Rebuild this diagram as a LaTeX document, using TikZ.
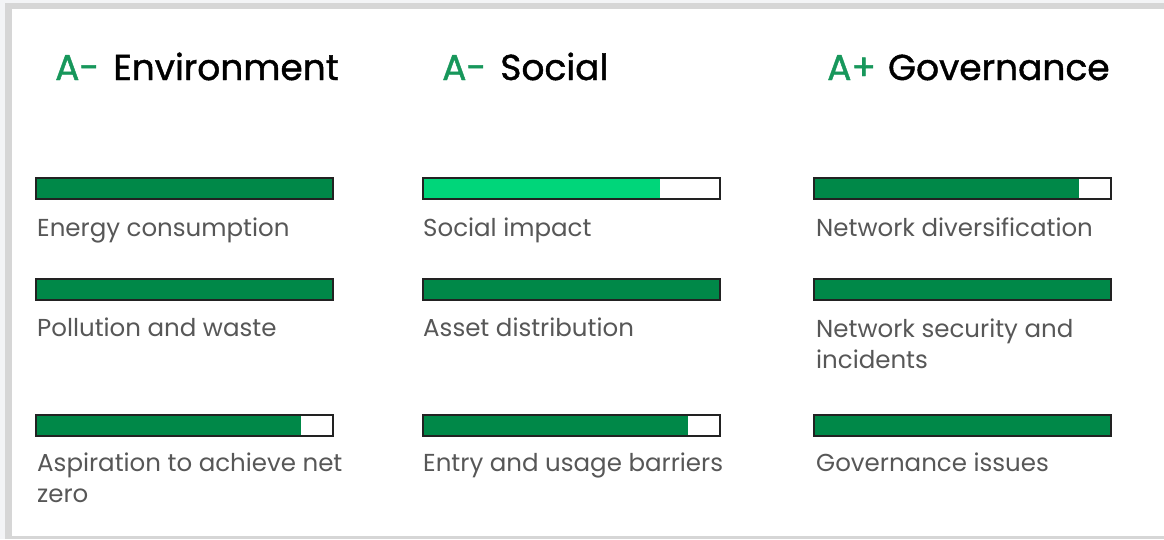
\documentclass[tikz,border=0pt]{standalone}
\usepackage{fontspec}
\setmainfont{Poppins}
\newfontfamily\headfont{Poppins}[FakeBold=1.2]
\definecolor{bgout}{HTML}{F3F4F6}
\definecolor{frame}{HTML}{D6D6D6}
\definecolor{dg}{HTML}{008848}
\definecolor{lg}{HTML}{00D67A}
\definecolor{grade}{HTML}{17975B}
\definecolor{lbl}{HTML}{575757}
\definecolor{barline}{HTML}{222222}
\tikzset{
  head/.style={anchor=base west, inner sep=0pt, font=\headfont\fontsize{36}{42}\selectfont, text=black},
  lbl/.style={anchor=base west, inner sep=0pt, font=\fontsize{24.5}{31}\selectfont, text=lbl, align=left},
  barframe/.style={draw=barline, line width=1.5pt, inner sep=0pt, anchor=north west, minimum width=297pt, minimum height=21pt},
}
\newcommand\esgbar[5]{%
  \fill[#5] (#2,#3) rectangle ++({297*#4},21);
  \node[barframe] (#1) at (#2,#3) {};
}
\begin{document}
\begin{tikzpicture}[x=1pt,y=-1pt]
\useasboundingbox (0,0) rectangle (1164,539);
\fill[bgout] (0,0) rectangle (1164,539);
\fill[frame] (5,3) rectangle (1164,539);
\fill[white] (12,9) rectangle (1164,536);

% headings
\node[head] (h1) at (55,80) {\textcolor{grade}{A-}\hspace{14pt}Environment};
\node[head] (h2) at (442,80) {\textcolor{grade}{A-}\hspace{14pt}Social};
\node[head] (h3) at (827,80) {\textcolor{grade}{A+}\hspace{12pt}Governance};

% column 1
\esgbar{b11}{35}{177}{1}{dg}
\node[lbl] (l11) at (37,236) {Energy consumption};
\esgbar{b12}{35}{278}{1}{dg}
\node[lbl] (l12) at (37,336) {Pollution and waste};
\esgbar{b13}{35}{414}{0.895}{dg}
\node[lbl] (l13) at (37,502) {Aspiration to achieve net\\zero};

% column 2
\esgbar{b21}{422}{177}{0.80}{lg}
\node[lbl] (l21) at (423,236) {Social impact};
\esgbar{b22}{422}{278}{1}{dg}
\node[lbl] (l22) at (423,336) {Asset distribution};
\esgbar{b23}{422}{414}{0.895}{dg}
\node[lbl] (l23) at (423,471) {Entry and usage barriers};

% column 3
\esgbar{b31}{813}{177}{0.895}{dg}
\node[lbl] (l31) at (816,236) {Network diversification};
\esgbar{b32}{813}{278}{1}{dg}
\node[lbl] (l32) at (816,368) {Network security and\\incidents};
\esgbar{b33}{813}{414}{1}{dg}
\node[lbl] (l33) at (816,471) {Governance issues};
\end{tikzpicture}
\end{document}
